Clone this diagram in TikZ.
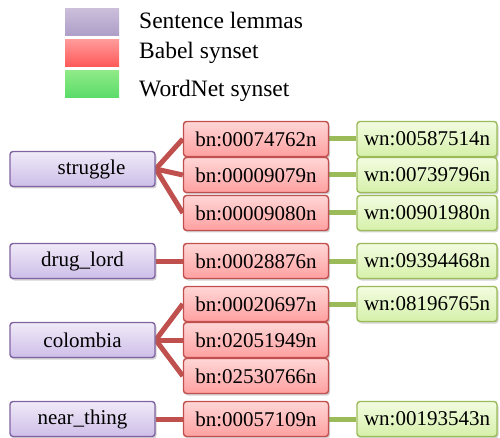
\documentclass[tikz,border=0pt]{standalone}
\usepackage{fontspec}
\setmainfont{Liberation Serif}
\usetikzlibrary{shadows,backgrounds}
\definecolor{pborder}{HTML}{8064A2}
\definecolor{rborder}{HTML}{C0504D}
\definecolor{gborder}{HTML}{9BBB59}
\tikzset{
  base/.style={rounded corners=3pt, line width=1.4pt, minimum height=35pt, inner sep=0pt,
    font=\fontsize{21}{24}\selectfont, drop shadow={shadow xshift=1.5pt, shadow yshift=-2pt, opacity=0.35}},
  lemma/.style={base, draw=pborder, top color={rgb,255:red,240;green,234;blue,248}, bottom color={rgb,255:red,205;green,190;blue,232}, minimum width=145pt},
  babel/.style={base, draw=rborder, top color={rgb,255:red,255;green,214;blue,214}, bottom color={rgb,255:red,255;green,160;blue,160}, minimum width=145pt},
  wnet/.style={base, draw=gborder, top color={rgb,255:red,242;green,252;blue,224}, bottom color={rgb,255:red,214;green,240;blue,170}, minimum width=140pt},
  redlink/.style={draw=rborder, line width=5pt},
  greenlink/.style={draw=gborder, line width=5pt},
  legbox/.style={minimum width=54pt, minimum height=27pt, inner sep=0pt},
  legtext/.style={anchor=west, inner sep=0pt, font=\fontsize{23.5}{26}\selectfont}
}
\begin{document}
\begin{tikzpicture}[x=1pt,y=-1pt]
\useasboundingbox (0,0) rectangle (500,438);
% legend
\node[legbox, top color={rgb,255:red,202;green,190;blue,218}, bottom color={rgb,255:red,174;green,158;blue,200}] (lp) at (92,22.5) {};
\node[legbox, top color={rgb,255:red,255;green,155;blue,155}, bottom color={rgb,255:red,255;green,88;blue,88}] (lr) at (92,53) {};
\node[legbox, top color={rgb,255:red,144;green,234;blue,136}, bottom color={rgb,255:red,90;green,220;blue,105}] (lg) at (92,84) {};
\node[legtext] (tp) at (139,20) {Sentence lemmas};
\node[legtext] (tr) at (139,53) {Babel synset};
\node[legtext] (tg) at (139,91) {WordNet synset};
% lemmas
\node[lemma] (s) at (82.5,169) {\hspace*{18pt}struggle};
\node[lemma] (d) at (82.5,261) {drug\_lord};
\node[lemma] (c) at (82.5,340) {colombia};
\node[lemma] (n) at (82.5,419) {near\_thing};
% babel
\node[babel] (b1) at (256,139) {bn:00074762n};
\node[babel] (b2) at (256,175) {bn:00009079n};
\node[babel] (b3) at (256,213) {bn:00009080n};
\node[babel] (b4) at (256,261) {bn:00028876n};
\node[babel] (b5) at (256,304) {bn:00020697n};
\node[babel] (b6) at (256,340) {bn:02051949n};
\node[babel] (b7) at (256,376) {bn:02530766n};
\node[babel] (b8) at (256,419) {bn:00057109n};
% wordnet
\node[wnet] (w1) at (427,139) {wn:00587514n};
\node[wnet] (w2) at (427,175) {wn:00739796n};
\node[wnet] (w3) at (427,213) {wn:00901980n};
\node[wnet] (w4) at (427,261) {wn:09394468n};
\node[wnet] (w5) at (427,304) {wn:08196765n};
\node[wnet] (w8) at (427,419) {wn:00193543n};
% links
\begin{scope}[on background layer]
\foreach \a/\b in {s/b1,s/b2,s/b3,d/b4,c/b5,c/b6,c/b7,n/b8}
  \draw[redlink] (\a.east) -- (\b.west);
\foreach \a/\b in {b1/w1,b2/w2,b3/w3,b4/w4,b5/w5,b8/w8}
  \draw[greenlink] (\a.east) -- (\b.west);
\end{scope}
\end{tikzpicture}
\end{document}
